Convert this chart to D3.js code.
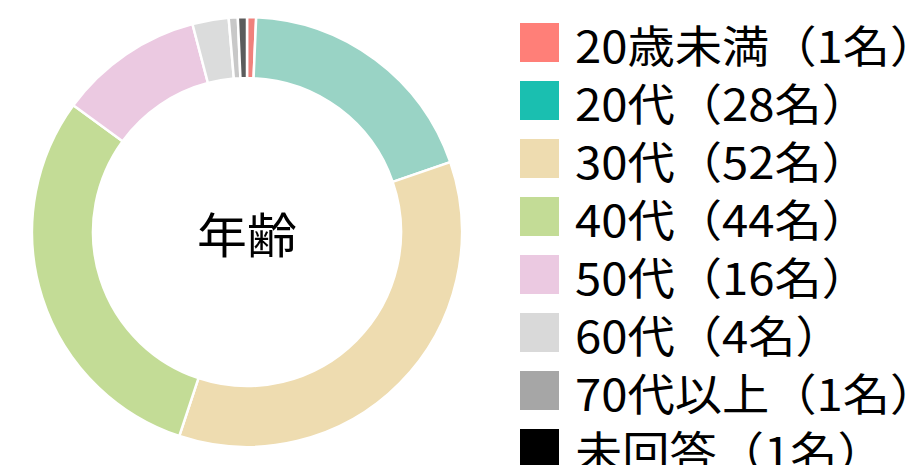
<!DOCTYPE html>
<html><head><meta charset="utf-8">
<script src="https://cdn.jsdelivr.net/npm/d3@7"></script>
<style>body{margin:0;background:#fff;}svg{display:block;font-family:"Noto Sans CJK JP","Noto Sans",sans-serif;}</style>
</head><body>
<svg id="c" width="918" height="465"></svg>
<script>
const categories = ["20歳未満","20代","30代","40代","50代","60代","70代以上","未回答"];
const counts = [1,28,52,44,16,4,1,1];
const sliceColors = ["#f0817c","#99d3c5","#eedcb0","#c3dc96","#ebc9e1","#dbdcdc","#c8c8c8","#5c5c5c"];
const legendColors = ["#ff7f78","#1abfb0","#eedcb0","#c3dc96","#ebc9e1","#d9d9d9","#a6a6a6","#000000"];
const centerLabel = "年齢";

const svg = d3.select("#c");
const cx = 247, cy = 232, rOuter = 215, rInner = 154;
const g = svg.append("g").attr("transform", `translate(${cx},${cy})`);
const pie = d3.pie().sort(null).value(d => d)(counts);
const arc = d3.arc().innerRadius(rInner).outerRadius(rOuter);
g.selectAll("path").data(pie).join("path")
  .attr("d", arc).attr("fill", (d,i) => sliceColors[i])
  .attr("stroke", "#fff").attr("stroke-width", 2.5);
g.append("text").text(centerLabel).attr("text-anchor","middle")
  .attr("dominant-baseline","central").attr("y", 0)
  .attr("transform","scale(1.04,1)")
  .attr("font-size", 48).attr("fill","#000");

const leg = svg.append("g");
const rowY = d3.scaleLinear().domain([0,1]).range([23, 81]);
const items = leg.selectAll("g").data(categories).join("g")
  .attr("transform", (d,i) => `translate(520,${rowY(i)})`);
items.append("rect").attr("width",39).attr("height",39).attr("fill",(d,i)=>legendColors[i]);
items.append("text").attr("dominant-baseline","central")
  .attr("transform","translate(55,21) scale(1.075,1)")
  .attr("font-size",44).attr("fill","#000")
  .text((d,i)=>`${d}（${counts[i]}名）`);
</script>
</body></html>
